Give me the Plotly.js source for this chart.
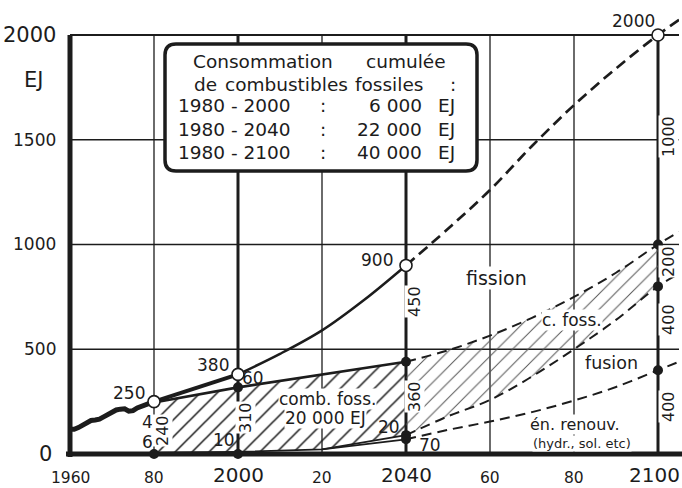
<!DOCTYPE html>
<html><head><meta charset="utf-8">
<script src="https://cdn.plot.ly/plotly-3.0.1.min.js"></script>
<style>body{margin:0;background:#fff}#chart{width:682px;height:488px}</style>
</head><body><div id="chart"></div>
<script>
// ---------- data ----------
const histYears = [1960,1961,1962,1963,1964,1965,1966,1967,1968,1969,1970,1971,1972,1973,1974,1975,1976,1977,1978,1979,1980];
const histTotal = [118,118,126,138,150,160,162,166,177,190,200,210,214,216,204,207,220,228,236,243,250];

const nearYears = [1980, 2000];
const nearTotal = [250, 380];
const midYears = [2000, 2010, 2020, 2030, 2040];
const midTotal = [380, 478, 590, 735, 900];
const projYears = [2040, 2050, 2060, 2070, 2080, 2090, 2100, 2105];
const projTotal = [900, 1075, 1260, 1470, 1665, 1840, 2000, 2072];

const fossTopYears = [1980, 2000, 2040];
const fossTop = [246, 318, 440];
const fossBaseYears = [1980, 2000, 2020, 2040];
const fossBase = [6, 10, 22, 90];
const renewYears = [1980, 2000, 2020, 2040];
const renew = [6, 10, 22, 70];

const cFossProj = [440, 495, 565, 650, 750, 865, 1000, 1060];
const fusionProj = [90, 180, 258, 370, 500, 640, 800, 860];
const renewProj = [70, 115, 155, 200, 255, 320, 400, 440];

const dotYears = [1980, 2000, 2000, 2040, 2040, 2040, 2100, 2100, 2100];
const dotValues = [0, 0, 318, 440, 90, 70, 1000, 800, 400];
const circleYears = [1980, 2000, 2040, 2100];
const circleValues = [250, 380, 900, 2000];

const xTickVals = [1960, 1980, 2000, 2020, 2040, 2060, 2080, 2100];
const xTickText = ['1960', '80', '2000', '20', '2040', '60', '80', '2100'];
const yTickVals = [0, 500, 1000, 1500, 2000];
const yTickText = ['0', '500', '1000', '1500', '2000'];

const legendRows = [
  ['1980 - 2000', '6 000'],
  ['1980 - 2040', '22 000'],
  ['1980 - 2100', '40 000']
];

// ---------- helpers ----------
const F = 'DejaVu Sans';
const INK = '#1c1c1c';
const PX = px => 1960 + (px - 70) / 4.2;      // pixel x -> year
const PY = py => (454 - py) / 0.2095;          // pixel y -> EJ
const end2100 = projYears.indexOf(2100) + 1;

const traces = [];
// hatched fossil area 1980-2040
traces.push({x: fossBaseYears, y: fossBase, mode: 'lines', line: {width: 0, color: 'rgba(0,0,0,0)'}, hoverinfo: 'skip'});
traces.push({x: fossTopYears, y: fossTop, mode: 'lines', line: {width: 0, color: 'rgba(0,0,0,0)'}, fill: 'tonexty',
  fillcolor: 'rgba(0,0,0,0)',
  fillpattern: {shape: '/', size: 12, solidity: 0.13, fgcolor: '#1c1c1c', bgcolor: 'rgba(0,0,0,0)'}, hoverinfo: 'skip'});
// hatched fossil area 2040-2100
traces.push({x: projYears.slice(0, end2100), y: fusionProj.slice(0, end2100), mode: 'lines', line: {width: 0, color: 'rgba(0,0,0,0)'}, hoverinfo: 'skip'});
traces.push({x: projYears.slice(0, end2100), y: cFossProj.slice(0, end2100), mode: 'lines', line: {width: 0, color: 'rgba(0,0,0,0)'}, fill: 'tonexty',
  fillcolor: 'rgba(0,0,0,0)',
  fillpattern: {shape: '/', size: 11, solidity: 0.09, fgcolor: '#555', bgcolor: 'rgba(0,0,0,0)'}, hoverinfo: 'skip'});

// lines
traces.push({x: histYears, y: histTotal, mode: 'lines', line: {color: INK, width: 5}});
traces.push({x: nearYears, y: nearTotal, mode: 'lines', line: {color: INK, width: 4}});
traces.push({x: midYears, y: midTotal, mode: 'lines', line: {color: INK, width: 2.5, shape: 'spline'}});
traces.push({x: projYears, y: projTotal, mode: 'lines', line: {color: INK, width: 2.7, dash: '11px,6px', shape: 'spline'}});
traces.push({x: fossTopYears, y: fossTop, mode: 'lines', line: {color: INK, width: 2.6}});
traces.push({x: renewYears, y: renew, mode: 'lines', line: {color: INK, width: 1.8}});
traces.push({x: fossBaseYears.slice(2), y: fossBase.slice(2), mode: 'lines', line: {color: INK, width: 1.8}});
traces.push({x: projYears, y: cFossProj, mode: 'lines', line: {color: INK, width: 2, dash: '10px,6px', shape: 'spline'}});
traces.push({x: projYears, y: fusionProj, mode: 'lines', line: {color: INK, width: 2, dash: '10px,6px', shape: 'spline'}});
traces.push({x: projYears, y: renewProj, mode: 'lines', line: {color: INK, width: 2, dash: '10px,6px', shape: 'spline'}});

// markers
traces.push({x: dotYears, y: dotValues, mode: 'markers', cliponaxis: false, marker: {size: 10, color: INK}});
traces.push({x: circleYears, y: circleValues, mode: 'markers', cliponaxis: false,
  marker: {size: 12, color: '#fff', line: {color: INK, width: 1.6}}});

// ---------- shapes ----------
const shapes = [];
const thickYears = [2000, 2040, 2100];
xTickVals.slice(1).forEach(v => {
  shapes.push({type: 'line', xref: 'x', yref: 'y', x0: v, x1: v, y0: 0, y1: 2000, layer: 'below',
    line: {color: INK, width: thickYears.includes(v) ? 3 : 1.3}});
});
yTickVals.slice(1).forEach(v => {
  shapes.push({type: 'line', xref: 'paper', yref: 'y', x0: 0, x1: 1, y0: v, y1: v, layer: 'below',
    line: {color: INK, width: v === 2000 ? 2 : 1.5}});
});
// axis frame (left + bottom)
shapes.push({type: 'line', xref: 'paper', yref: 'paper', x0: 0, x1: 0, y0: -0.007, y1: (454 - 35) / 440, line: {color: INK, width: 5}});
shapes.push({type: 'line', xref: 'paper', yref: 'paper', x0: -4 / 609, x1: 612 / 609, y0: 0, y1: 0, line: {color: INK, width: 5}});

// rounded legend box
(function () {
  const x0 = PX(165), x1 = PX(477), yb = PY(171), yt = PY(44);
  const rx = 11 / 4.2, ry = 11 / 0.2095;
  const p = `M${x0 + rx},${yt} L${x1 - rx},${yt} Q${x1},${yt} ${x1},${yt - ry} L${x1},${yb + ry} Q${x1},${yb} ${x1 - rx},${yb} ` +
            `L${x0 + rx},${yb} Q${x0},${yb} ${x0},${yb + ry} L${x0},${yt - ry} Q${x0},${yt} ${x0 + rx},${yt} Z`;
  shapes.push({type: 'path', xref: 'x', yref: 'y', path: p, fillcolor: '#fff', layer: 'above', line: {color: INK, width: 3.5}});
})();

// ---------- annotations ----------
const ann = [];
function T(px, py, text, size, extra) {
  ann.push(Object.assign({xref: 'x', yref: 'y', x: PX(px), y: PY(py), text: text, showarrow: false,
    font: {family: F, size: size, color: INK}, xanchor: 'center', yanchor: 'middle', borderpad: 0}, extra || {}));
}
// x tick labels
const majorYears = [2000, 2040, 2100];
const lastTick = xTickVals[xTickVals.length - 1];
xTickVals.forEach((v, i) => {
  ann.push({xref: 'x', yref: 'paper', x: v, y: (454 - 487.5) / 440, text: xTickText[i], showarrow: false,
    font: {family: F, size: majorYears.includes(v) ? 20 : 15.5, color: INK}, xanchor: 'center', yanchor: 'bottom',
    borderpad: 0, xshift: v === lastTick ? -4 : 0});
});
// y tick labels
yTickVals.forEach((v, i) => {
  const big = (v === 0 || v === 2000);
  ann.push({xref: 'paper', yref: 'y', x: (58 - 70) / 609, y: v, text: yTickText[i], showarrow: false,
    font: {family: F, size: big ? 21 : 17, color: INK}, xanchor: 'right', yanchor: 'middle', xshift: v === 0 ? -4 : 0});
});
ann.push({xref: 'paper', yref: 'y', x: (33 - 70) / 609, y: PY(80), text: 'EJ', showarrow: false,
  font: {family: F, size: 21, color: INK}, xanchor: 'center', yanchor: 'middle'});

// legend box text
const LS = 18.5;
T(192, 62, 'Consommation', LS, {xanchor: 'left'});
T(365, 62, 'cumulée', LS, {xanchor: 'left'});
T(193, 85, 'de', LS, {xanchor: 'left'});
T(224, 85, 'combustibles', LS, {xanchor: 'left'});
T(354, 85, 'fossiles', LS, {xanchor: 'left'});
T(453, 85, ':', LS);
legendRows.forEach((r, i) => {
  const yy = 106 + i * 23.5;
  T(177, yy, r[0], LS, {xanchor: 'left'});
  T(323, yy, ':', LS);
  T(423, yy, r[1], LS, {xanchor: 'right'});
  T(437, yy, 'EJ', LS, {xanchor: 'left'});
});

// point values
T(129, 393, '250', 17);
T(213, 365, '380', 17);
T(253, 378, '60', 17);
T(377, 260, '900', 17);
T(633, 21, '2000', 17);
T(147, 422, '4', 17);
T(147, 442, '6', 17);
T(224, 440, '10', 17);
T(389, 427, '20', 17);
T(430, 445, '70', 17);

// area names
const W = {bgcolor: '#fff'};
T(327, 399, 'comb. foss.', 17, W);
T(325, 418, '20 000 EJ', 17, W);
T(496, 278, 'fission', 19, W);
T(572, 320, 'c. foss.', 17, W);
T(611, 363, 'fusion', 17.5, W);
T(575, 424, 'én. renouv.', 16, W);
T(582, 443, '(hydr., sol. etc)', 13, W);

// rotated segment values
const R = {textangle: -90, bgcolor: '#fff'};
T(162, 431, '240', 16, R);
T(245, 418, '310', 16, R);
T(415, 397, '360', 16, R);
T(415, 302, '450', 16, R);
T(669, 137, '1000', 16, R);
T(669, 262, '200', 16, R);
T(669, 320, '400', 16, R);
T(669, 407, '400', 16, R);

const layout = {
  width: 682, height: 488,
  margin: {l: 70, r: 3, t: 14, b: 34},
  paper_bgcolor: '#fff', plot_bgcolor: '#fff',
  showlegend: false,
  xaxis: {range: [1960, 2105], showgrid: false, zeroline: false, showticklabels: false, showline: false, ticks: '', fixedrange: true},
  yaxis: {range: [0, 2100], showgrid: false, zeroline: false, showticklabels: false, showline: false, ticks: '', fixedrange: true},
  shapes: shapes,
  annotations: ann
};
Plotly.newPlot('chart', traces, layout, {displayModeBar: false, staticPlot: true});
</script>
</body></html>
